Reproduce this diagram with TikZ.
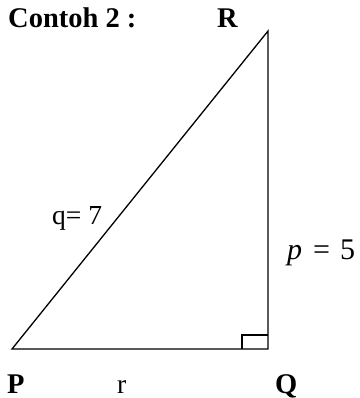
\documentclass[tikz,border=0pt]{standalone}
\usepackage{fontspec}
\setmainfont{Liberation Serif}
\begin{document}
\begin{tikzpicture}[x=1pt,y=-1pt,
  lbl/.style={anchor=base west,inner sep=0pt,font=\fontsize{28.5}{32}\selectfont\bfseries},
  txt/.style={anchor=base west,inner sep=0pt,font=\fontsize{27.5}{32}\selectfont},
  edge/.style={line width=1.3pt,line join=miter}]
\useasboundingbox (0,0) rectangle (359,398);
\coordinate (P) at (12,349);
\coordinate (Q) at (268,349);
\coordinate (R) at (268,31);
\draw[edge] (P) -- (Q) -- (R) -- cycle;
\coordinate (s1) at (242,349);
\coordinate (s2) at (242,335);
\coordinate (s3) at (268,335);
\draw[line width=1.1pt] (s1) -- (s2) -- (s3);
\node[lbl] (title) at (8,28) {Contoh 2 :};
\node[lbl] (lR) at (217,28) {R};
\node[lbl] (lP) at (7,393) {P};
\node[txt] (lr) at (117,393) {r};
\node[lbl] (lQ) at (275,393) {Q};
\node[txt] (lq) at (52,224) {q= 7};
\node[anchor=base west,inner sep=0pt,font=\fontsize{30}{34}\selectfont] (lp) at (287,259) {\textit{p}\hspace{11pt}=\hspace{10pt}5};
\end{tikzpicture}
\end{document}
